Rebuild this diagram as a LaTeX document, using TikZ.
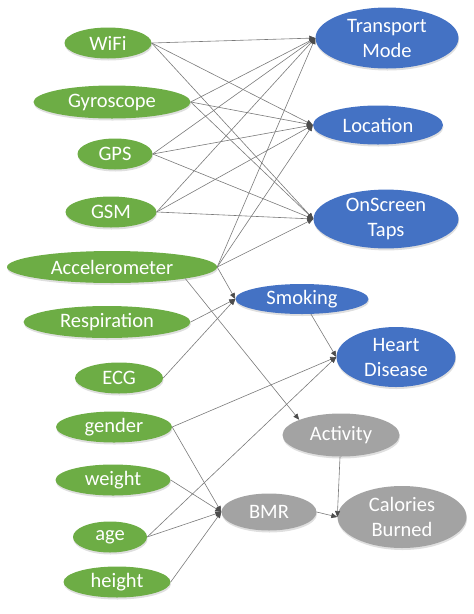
\documentclass[tikz,border=0pt]{standalone}
\usepackage{fontspec}
\setmainfont{Carlito}
\usetikzlibrary{shapes.geometric,arrows.meta,shadows}

\definecolor{sensorgreen}{HTML}{6DAD45}
\definecolor{taskblue}{HTML}{4472C4}
\definecolor{derivedgray}{HTML}{A3A3A3}
\definecolor{linkgray}{HTML}{7A7A7A}

\begin{document}
\begin{tikzpicture}
    [
        x=1pt, y=-1pt,
        every node/.style={ellipse, inner sep=0pt, align=center, text=white,
            font=\fontsize{20.5}{25}\selectfont,
            drop shadow={shadow xshift=0.5pt, shadow yshift=-2pt, opacity=0.25}},
        sensor/.style={fill=sensorgreen},
        task/.style={fill=taskblue},
        derived/.style={fill=derivedgray},
        link/.style={-{Triangle[length=6pt, width=5pt, color=black!70]}, draw=linkgray, line width=0.6pt},
    ]
  \useasboundingbox (0,0) rectangle (474,614);

  % Nodes
  \node [sensor, minimum width=87pt, minimum height=31pt] (W) at (108,43) {WiFi};
  \node [sensor, minimum width=157pt, minimum height=33pt] (Gy) at (112,102) {Gyroscope};
  \node [sensor, minimum width=75pt, minimum height=31pt] (GP) at (115,154) {GPS};
  \node [sensor, minimum width=91pt, minimum height=31pt] (GS) at (111,212) {GSM};
  \node [sensor, minimum width=210pt, minimum height=32pt] (A) at (112,267) {Accelerometer};
  \node [sensor, minimum width=167pt, minimum height=32pt] (R) at (107,322) {Respiration};
  \node [sensor, minimum width=88pt, minimum height=31pt] (E) at (119,378) {ECG};
  \node [sensor, minimum width=116pt, minimum height=31pt] (Ge) at (114,427) {gender};
  \node [sensor, minimum width=115pt, minimum height=31pt] (We) at (113,480) {weight};
  \node [sensor, minimum width=74pt, minimum height=31pt] (Ag) at (110,537) {age};
  \node [sensor, minimum width=107pt, minimum height=31pt] (He) at (117,582) {height};

  \node [task, minimum width=143pt, minimum height=61pt] (T) at (387,38) {Transport\\Mode};
  \node [task, minimum width=130pt, minimum height=39pt] (L) at (378,125) {Location};
  \node [task, minimum width=145pt, minimum height=55pt] (O) at (386,219) {OnScreen\\Taps};
  \node [task, minimum width=133pt, minimum height=30pt] (S) at (302,299) {Smoking};
  \node [task, minimum width=119pt, minimum height=60pt] (H) at (396,357) {Heart\\Disease};

  \node [derived, minimum width=117pt, minimum height=43pt] (Ac) at (341,435) {Activity};
  \node [derived, minimum width=95pt, minimum height=37pt] (B) at (269,512) {BMR};
  \node [derived, minimum width=129pt, minimum height=62pt] (C) at (402,517) {Calories\\Burned};

  % Connections
  \foreach \src in {W, Gy, GP, GS, A}
    \foreach \dst in {T, L, O}
      \draw [link] (\src.east) -- (\dst.west);
  \draw [link] (A.east) -- (S.west);
  \draw [link] (R.east) -- (S.west);
  \draw [link] (E.east) -- (S.west);
  \draw [link] (A.-9) -- (Ac.160);
  \draw [link] (S) -- (H.west);
  \draw [link] (Ge.east) -- (H.west);
  \draw [link] (Ag.east) -- (H.west);
  \foreach \src in {Ge, We, Ag, He}
    \draw [link] (\src.east) -- (B.west);
  \draw [link] (Ac) -- (C.west);
  \draw [link] (B.east) -- (C.west);
\end{tikzpicture}
\end{document}
